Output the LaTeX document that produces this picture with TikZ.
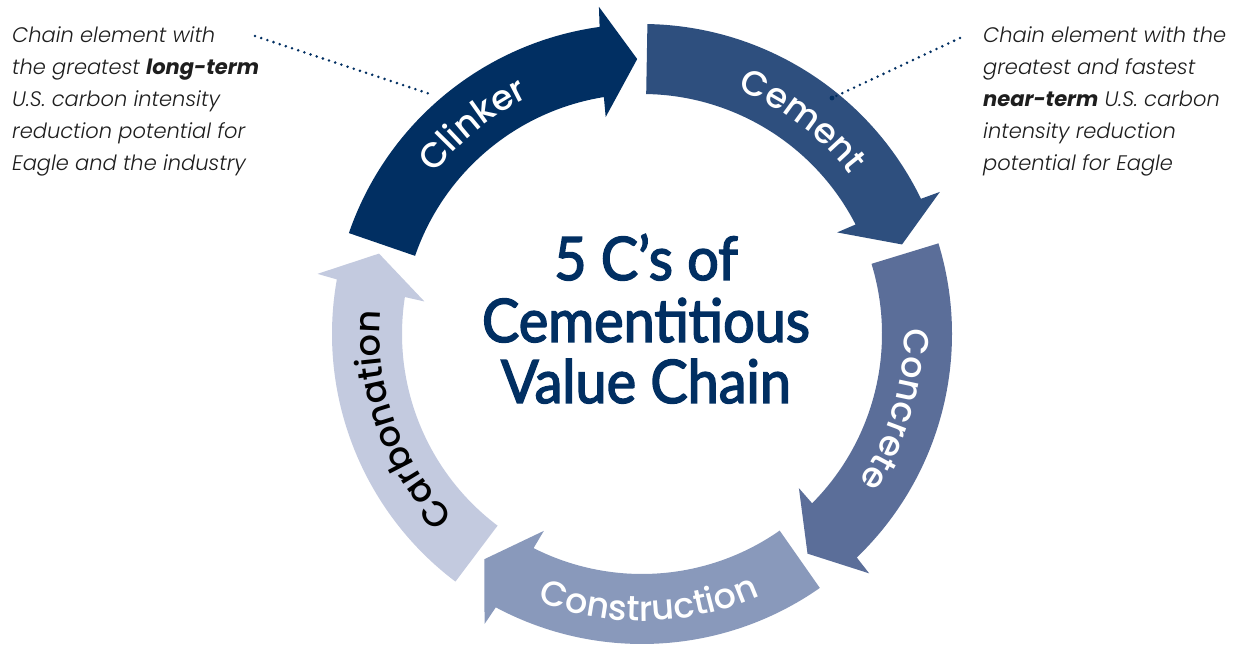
\documentclass[tikz,border=0pt]{standalone}
\usepackage{fontspec}
\setmainfont{Poppins}
\newfontfamily\notefont{Poppins Light}[ItalicFont=Poppins Light Italic, BoldItalicFont=Poppins Bold Italic, BoldFont=Poppins Bold]
\newfontfamily\labfont[LetterSpace=6]{Poppins Medium}
\newfontfamily\titlefont[FakeStretch=0.93, FakeBold=2.5]{Lato}
\usetikzlibrary{decorations.text}
\definecolor{cClinker}{HTML}{012F62}
\definecolor{cCement}{HTML}{2E4F7E}
\definecolor{cConcrete}{HTML}{5B6E99}
\definecolor{cConstruction}{HTML}{8999BB}
\definecolor{cCarbonation}{HTML}{C3CADF}
\definecolor{navy}{HTML}{012F62}
\definecolor{notegray}{HTML}{1E1E1E}
\newcommand\cyclearrow[2]{%
  \fill[#2] (#1:240) -- (#1:310) arc[start angle=#1, end angle={#1-63.14}, radius=310]
    -- ({#1-63.5}:330) -- ({#1-70}:275) -- ({#1-61.5}:220) -- ({#1-61.86}:240)
    arc[start angle={#1-61.86}, end angle=#1, radius=240] -- cycle;}
\tikzset{
  title/.style={font=\titlefont\fontsize{60}{60}\selectfont, text=navy, inner sep=0pt},
  note/.style={align=left, font=\notefont\itshape\fontsize{21}{32}\selectfont, text=notegray, inner sep=0pt},
  leader/.style={draw=navy, line width=2.8pt, line cap=round, dash pattern=on 0pt off 6.5pt},
  lab/.style={decorate, decoration={text along path, text align=center, text color=#1}},
}
\begin{document}
\begin{tikzpicture}[x=1pt,y=1pt]
\useasboundingbox (0,0) rectangle (1240,645);
\fill[white] (0,0) rectangle (1240,645);
\begin{scope}[shift={(642,311)}]
  \cyclearrow{161}{cClinker}
  \cyclearrow{89}{cCement}
  \cyclearrow{17}{cConcrete}
  \cyclearrow{-55}{cConstruction}
  \cyclearrow{-127}{cCarbonation}
  \path[lab=white, decoration={text={|\labfont\fontsize{35}{35}\selectfont|Clinker}}]
    (169:262) arc[start angle=169, end angle=89, radius=262];
  \path[lab=white, decoration={text={|\labfont\fontsize{35}{35}\selectfont|Cement}}]
    (93:262) arc[start angle=93, end angle=13, radius=262];
  \path[lab=white, decoration={text={|\labfont\fontsize{35}{35}\selectfont|Concrete}}]
    (23.5:262) arc[start angle=23.5, end angle=-56.5, radius=262];
  \path[lab=white, decoration={text={|\labfont\fontsize{35}{35}\selectfont|Construction}}]
    (-128.5:287) arc[start angle=-128.5, end angle=-48.5, radius=287];
  \path[lab=black, decoration={text={|\labfont\fontsize{35}{35}\selectfont|Carbonation}}]
    (239.5:262) arc[start angle=239.5, end angle=159.5, radius=262];
\end{scope}
\node[title, anchor=base] (t1) at (646,365) {5 C’s of};
\node[title, anchor=base] (t2) at (646,303) {Cementitious};
\node[title, anchor=base] (t3) at (646,242) {Value Chain};
\node[note, anchor=north west] (noteL) at (12,618)
  {Chain element with\\the greatest \textbf{long-term}\\U.S. carbon intensity\\reduction potential for\\Eagle and the industry};
\node[note, anchor=north west] (noteR) at (983,618)
  {Chain element with the\\greatest and fastest\\\textbf{near-term} U.S. carbon\\intensity reduction\\potential for Eagle};
\coordinate (noteLlink) at (255,609);
\coordinate (noteRlink) at (960,607);
\coordinate (clinkerPt) at (433,550);
\coordinate (cementPt) at (832,547);
\draw[leader] (noteLlink) -- (clinkerPt);
\draw[leader] (noteRlink) -- (cementPt);
\fill[navy] (cementPt) circle (2.4pt);
\end{tikzpicture}
\end{document}
